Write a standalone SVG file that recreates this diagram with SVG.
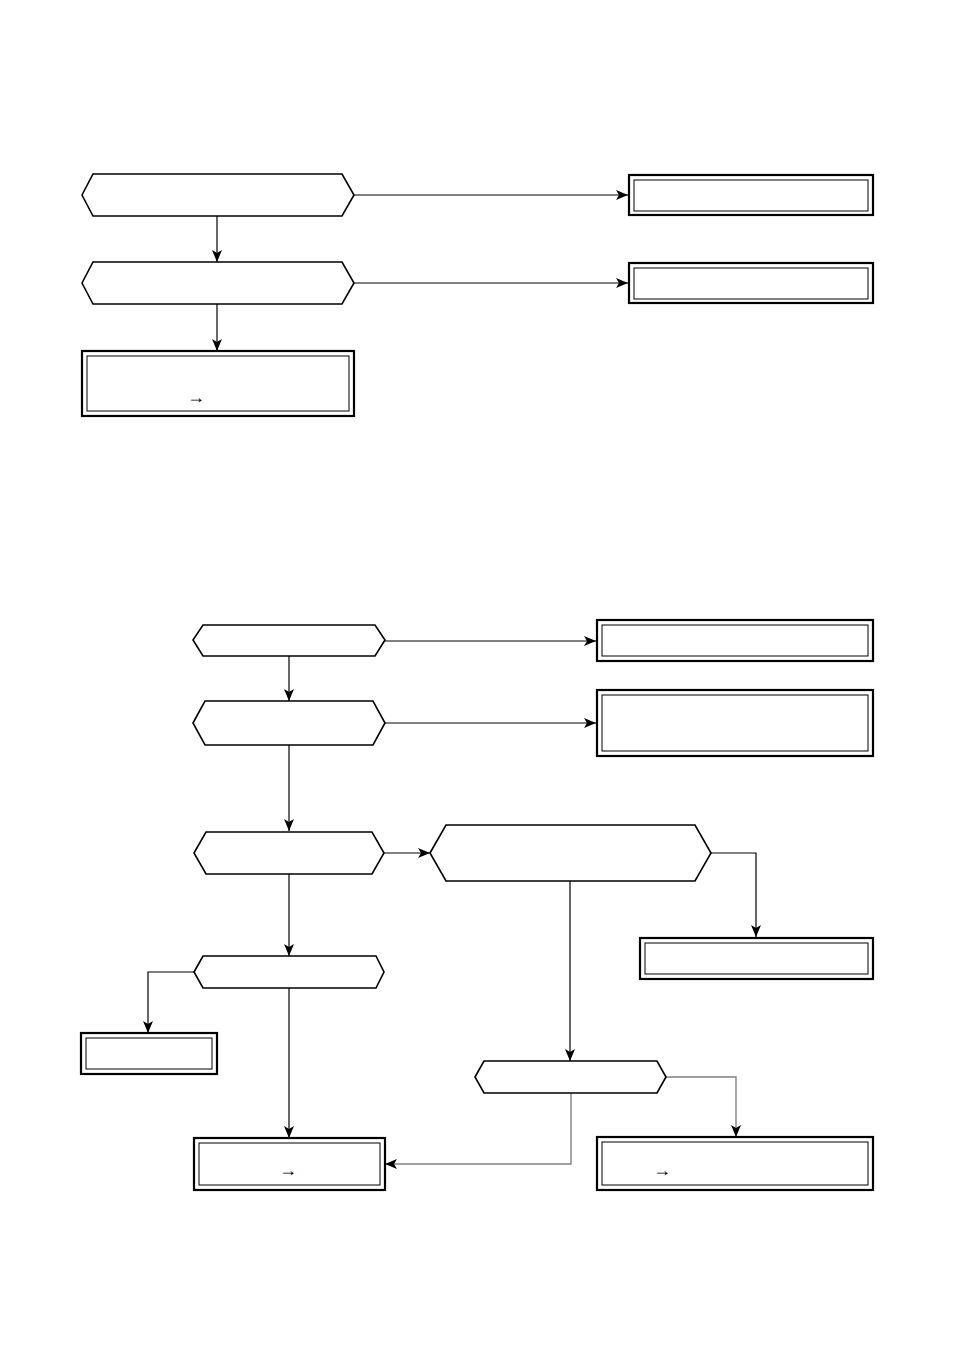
<svg xmlns="http://www.w3.org/2000/svg" width="954" height="1348" viewBox="0 0 954 1348">
<style>
.hex{fill:#fff;stroke:#000;stroke-width:1.6;stroke-linejoin:miter}
.bo{fill:#fff;stroke:#000;stroke-width:2.2}
.bi{fill:none;stroke:#000;stroke-width:1}
.c{fill:none;stroke:#000;stroke-width:1.2}
.g{fill:none;stroke:#808080;stroke-width:1.4}
.t{font-family:"Liberation Serif","DejaVu Serif",serif;font-size:18px;fill:#000;text-anchor:middle}
</style>
<defs>
<marker id="ah" markerUnits="userSpaceOnUse" markerWidth="14" markerHeight="10" refX="12" refY="5" orient="auto" viewBox="0 0 14 10">
<path d="M0,0 L12,5 L0,10 L3,5 z" fill="#000"/>
</marker>
</defs>
<rect width="954" height="1348" fill="#fff"/>
<g id="connectors">
<path class="c" d="M217,216 V262" marker-end="url(#ah)"/>
<path class="c" d="M217,304 V351" marker-end="url(#ah)"/>
<path class="c" d="M354,195 H628" marker-end="url(#ah)"/>
<path class="c" d="M354,283 H628" marker-end="url(#ah)"/>
<path class="c" d="M289,656 V701" marker-end="url(#ah)"/>
<path class="c" d="M385,641 H596" marker-end="url(#ah)"/>
<path class="c" d="M385,723 H596" marker-end="url(#ah)"/>
<path class="c" d="M289,745 V831" marker-end="url(#ah)"/>
<path class="c" d="M384,853 H430" marker-end="url(#ah)"/>
<path class="c" d="M711,853 H756 V937" marker-end="url(#ah)"/>
<path class="c" d="M289,874 V956" marker-end="url(#ah)"/>
<path class="c" d="M570,881 V1061" marker-end="url(#ah)"/>
<path class="c" d="M194,972 H148 V1033" marker-end="url(#ah)"/>
<path class="c" d="M289,988 V1138" marker-end="url(#ah)"/>
<path class="g" d="M571,1093 V1164 H385" marker-end="url(#ah)"/>
<path class="g" d="M666,1077 H736 V1137" marker-end="url(#ah)"/>
</g>
<g id="n1"><polygon class="hex" points="82,195 93,174 342,174 354,195 342,216 93,216"/></g>
<g id="n2"><polygon class="hex" points="82,283 93,262 342,262 354,283 342,304 93,304"/></g>
<g id="n3"><rect class="bo" x="82" y="351" width="272" height="65"/><rect class="bi" x="87" y="356" width="262" height="55"/><text class="t" x="196" y="403">→</text></g>
<g id="n4"><rect class="bo" x="629" y="175" width="244" height="40"/><rect class="bi" x="634" y="180" width="234" height="31"/></g>
<g id="n5"><rect class="bo" x="629" y="263" width="244" height="40"/><rect class="bi" x="634" y="268" width="234" height="31"/></g>
<g id="n6"><polygon class="hex" points="193,640 203,625 375,625 385,640 375,656 203,656"/></g>
<g id="n7"><polygon class="hex" points="193,723 205,701 373,701 385,723 373,745 205,745"/></g>
<g id="n8"><rect class="bo" x="597" y="620" width="276" height="41"/><rect class="bi" x="602" y="625" width="266" height="31"/></g>
<g id="n9"><rect class="bo" x="597" y="690" width="276" height="66"/><rect class="bi" x="602" y="695" width="266" height="56"/></g>
<g id="n10"><polygon class="hex" points="194,853 206,832 372,832 384,853 372,874 206,874"/></g>
<g id="n11"><polygon class="hex" points="430,853 446,825 695,825 711,853 695,881 446,881"/></g>
<g id="n12"><rect class="bo" x="640" y="938" width="233" height="41"/><rect class="bi" x="645" y="943" width="223" height="31"/></g>
<g id="n13"><polygon class="hex" points="194,972 203,956 376,956 384,972 376,988 203,988"/></g>
<g id="n14"><rect class="bo" x="81" y="1033" width="136" height="41"/><rect class="bi" x="86" y="1038" width="126" height="31"/></g>
<g id="n15"><polygon class="hex" points="475,1077 484,1061 657,1061 666,1077 657,1093 484,1093"/></g>
<g id="n16"><rect class="bo" x="194" y="1138" width="191" height="52"/><rect class="bi" x="199" y="1143" width="181" height="42"/><text class="t" x="288" y="1176">→</text></g>
<g id="n17"><rect class="bo" x="597" y="1137" width="276" height="53"/><rect class="bi" x="602" y="1142" width="266" height="43"/><text class="t" x="662" y="1176">→</text></g>
</svg>
